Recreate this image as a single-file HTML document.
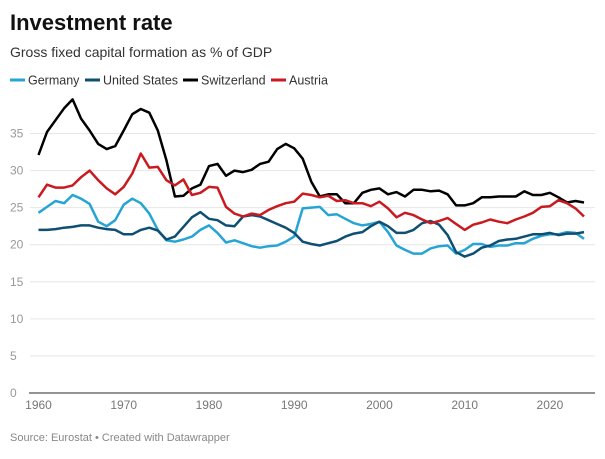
<!DOCTYPE html>
<html><head><meta charset="utf-8"><style>
body{margin:0;width:605px;height:454px;background:#fff;font-family:"Liberation Sans",sans-serif;overflow:hidden}
</style></head><body>
<svg id="chart" width="605" height="454" xmlns="http://www.w3.org/2000/svg">
<text x="10" y="30" font-size="22" font-weight="bold" fill="#111">Investment rate</text>
<text x="10" y="57" font-size="14" fill="#333">Gross fixed capital formation as % of GDP</text>
<g id="legend"></g>
<g id="grid"></g>
<g id="xaxis"></g>
<g id="lines"></g>
<text x="10" y="441" font-size="11" fill="#888">Source: Eurostat • Created with Datawrapper</text>
</svg>
<script>
const years=[];for(let y=1960;y<=2024;y++)years.push(y);
const yTicks=[0,5,10,15,20,25,30,35];
const xTicks=[1960,1970,1980,1990,2000,2010,2020];
const seriesNames=["Germany","United States","Switzerland","Austria"];
const seriesColors=["#26a5d4","#0f4f73","#000000","#c91a20"];
const germany=[24.3,25.1,25.9,25.6,26.7,26.2,25.5,23.1,22.5,23.3,25.4,26.2,25.6,24.2,22.0,20.6,20.4,20.7,21.1,22.0,22.6,21.6,20.3,20.6,20.2,19.8,19.6,19.8,19.9,20.4,21.1,24.9,25.0,25.1,24.0,24.1,23.5,22.9,22.6,22.8,23.1,21.7,19.9,19.3,18.8,18.8,19.5,19.8,19.9,18.8,19.3,20.1,20.1,19.7,19.9,19.9,20.2,20.2,20.8,21.2,21.4,21.4,21.7,21.6,20.8];
const unitedStates=[22.0,22.0,22.1,22.3,22.4,22.6,22.6,22.3,22.1,22.0,21.4,21.4,22.0,22.3,21.9,20.7,21.1,22.4,23.7,24.4,23.5,23.3,22.6,22.5,23.8,24.0,23.8,23.3,22.8,22.3,21.6,20.4,20.1,19.9,20.2,20.5,21.1,21.5,21.7,22.5,23.1,22.5,21.6,21.6,22.0,22.9,23.2,22.7,21.3,19.0,18.4,18.8,19.6,19.9,20.5,20.7,20.8,21.1,21.4,21.4,21.6,21.3,21.5,21.5,21.7];
const switzerland=[32.1,35.2,36.8,38.4,39.6,37.0,35.4,33.6,32.9,33.3,35.4,37.6,38.3,37.8,35.4,31.4,26.5,26.6,27.6,28.1,30.6,30.9,29.3,30.0,29.8,30.1,30.9,31.2,32.9,33.6,33.0,31.6,28.5,26.5,26.8,26.8,25.6,25.6,27.0,27.4,27.6,26.8,27.1,26.5,27.4,27.4,27.2,27.3,26.8,25.3,25.3,25.6,26.4,26.4,26.5,26.5,26.5,27.2,26.7,26.7,27.0,26.4,25.7,25.9,25.7];
const austria=[26.4,28.1,27.7,27.7,28.0,29.1,30.0,28.7,27.6,26.8,27.8,29.6,32.3,30.4,30.5,28.7,28.0,28.8,26.7,27.0,27.8,27.7,25.1,24.2,23.8,24.2,24.0,24.7,25.2,25.6,25.8,26.9,26.7,26.4,26.6,25.9,26.0,25.6,25.6,25.2,25.8,24.9,23.7,24.3,24.0,23.4,22.9,23.2,23.6,22.8,22.0,22.7,23.0,23.4,23.1,22.9,23.4,23.8,24.3,25.1,25.2,26.0,25.6,24.9,23.8];
const seriesData=[germany,unitedStates,switzerland,austria];
const NS="http://www.w3.org/2000/svg";
const X0=38.5,X1=584,Y0=393,Y35=133.5;
const xs=y=>X0+(y-1960)*(X1-X0)/64;
const ys=v=>Y0-v*(Y0-Y35)/35;
function mk(tag,attrs,parent){const e=document.createElementNS(NS,tag);for(const k in attrs)e.setAttribute(k,attrs[k]);parent.appendChild(e);return e;}
const grid=document.getElementById('grid'),xa=document.getElementById('xaxis'),lines=document.getElementById('lines'),leg=document.getElementById('legend');
yTicks.forEach(t=>{
 if(t>0){const l=mk('line',{x1:30,x2:595,y1:ys(t),y2:ys(t),stroke:'#e6e6e6','stroke-width':1},grid);
 
 }
 const tx=mk('text',{x:10,y:ys(t)+4,'font-size':12,fill:'#999'},grid);tx.textContent=t;
 
 
});
const ax=mk('line',{x1:29,x2:595,y1:Y0,y2:Y0,stroke:'#555','stroke-width':1.3},xa);


xTicks.forEach(t=>{const tx=mk('text',{x:xs(t),y:Y0+16,'font-size':12,fill:'#777','text-anchor':'middle'},xa);tx.textContent=t;
 
 });
seriesData.forEach((d,i)=>{
 const p=mk('path',{d:d.map((v,j)=>(j?'L':'M')+xs(years[j]).toFixed(1)+','+ys(v).toFixed(1)).join(''),fill:'none',stroke:seriesColors[i],'stroke-width':2.5,'stroke-linejoin':'round'},lines);
 
 
});
const legX=[10,85,183,271];
seriesNames.forEach((n,i)=>{
 const g=mk('g',{},leg);
 
 
 mk('line',{x1:legX[i],x2:legX[i]+15,y1:80,y2:80,stroke:seriesColors[i],'stroke-width':3},g);
 const t=mk('text',{x:legX[i]+18,y:84.5,'font-size':12.5,fill:'#333'},g);t.textContent=n;
});
</script>
</body></html>
